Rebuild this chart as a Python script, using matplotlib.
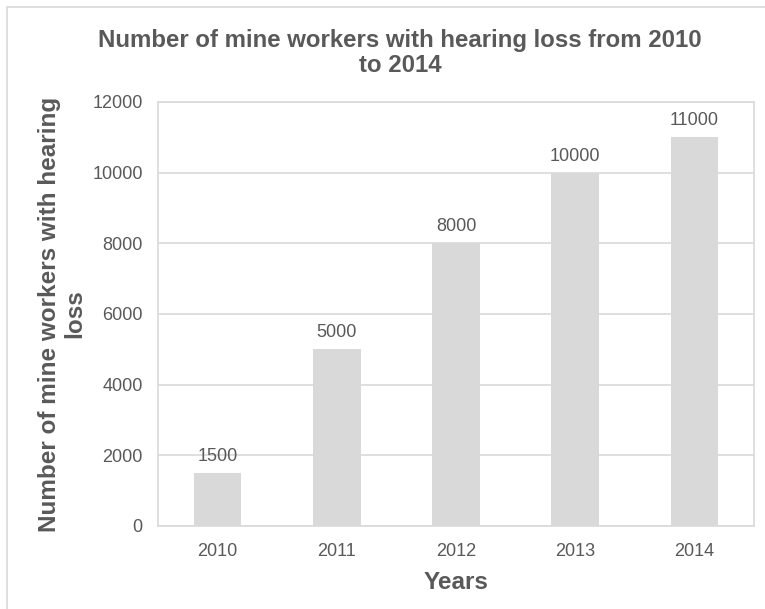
import numpy as np
import matplotlib.pyplot as plt
from matplotlib.patches import Rectangle

years = ['2010', '2011', '2012', '2013', '2014']
workers = [1500, 5000, 8000, 10000, 11000]
y_ticks = [0, 2000, 4000, 6000, 8000, 10000, 12000]

txt = '#595959'
grey = '#d9d9d9'

plt.rcParams['font.family'] = ['Liberation Sans', 'DejaVu Sans']

fig = plt.figure(figsize=(7.65, 6.09), dpi=100)
ax = fig.add_axes([158/765, 1 - 526/609, (754 - 158)/765, (526 - 102)/609])

x = np.arange(len(years))
bars = ax.bar(x, workers, width=0.4, color=grey, zorder=2)
for xi, v in zip(x, workers):
    ax.text(xi, v + 230, str(v), ha='center', va='bottom', fontsize=13, color=txt)

ax.set_xlim(-0.5, len(years) - 0.5)
ax.set_ylim(0, 12000)
ax.set_xticks(x)
ax.set_xticklabels(years)
ax.set_yticks(y_ticks)
ax.tick_params(axis='both', length=0, labelsize=13, labelcolor=txt)
ax.tick_params(axis='x', pad=12)
ax.tick_params(axis='y', pad=11)
ax.yaxis.grid(True, color=grey, linewidth=1.2, zorder=0)
ax.set_axisbelow(True)
for s in ax.spines.values():
    s.set_color(grey)
    s.set_linewidth(1.2)

ax.set_xlabel('Years', fontsize=17.5, fontweight='bold', color=txt, labelpad=8)
ax.set_ylabel('Number of mine workers with hearing\nloss', fontsize=17.5,
              fontweight='bold', color=txt, linespacing=1.1, va='center')
ax.yaxis.set_label_coords((62 - 158) / 596, 0.5)
fig.text(400/765, 1 - 53/609, 'Number of mine workers with hearing loss from 2010\nto 2014',
         ha='center', va='center', fontsize=17.3, fontweight='bold', color=txt, linespacing=1.15)

# outer chart border
fig.add_artist(Rectangle((7/765, -0.1), 1.2, 1 - 7/609 + 0.1, transform=fig.transFigure,
                         fill=False, edgecolor=grey, linewidth=1.2))

fig.savefig('out.png', dpi=100)
